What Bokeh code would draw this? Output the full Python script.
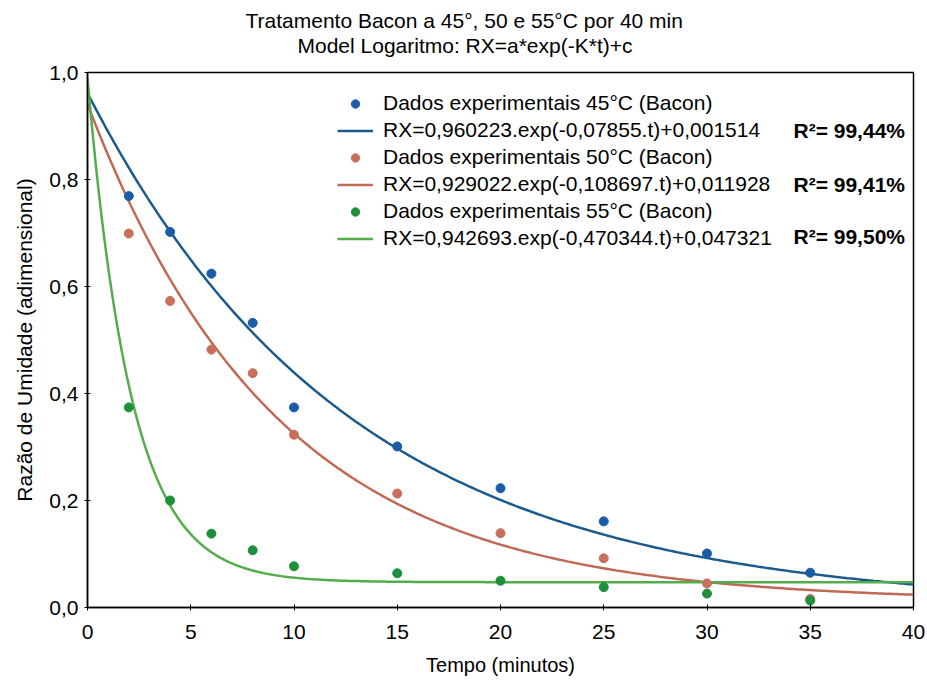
import numpy as np
from bokeh.plotting import figure
from bokeh.models import (Range1d, Legend, LegendItem, Label, CustomJSTickFormatter,
                          FixedTicker, Title)
from bokeh.embed import file_html
from bokeh.resources import INLINE

# ---- data ----
t_obs = [2, 4, 6, 8, 10, 15, 20, 25, 30, 35]
rx_45 = [0.769, 0.702, 0.624, 0.532, 0.374, 0.301, 0.223, 0.161, 0.101, 0.065]
rx_50 = [0.699, 0.573, 0.482, 0.438, 0.323, 0.213, 0.139, 0.092, 0.045, 0.016]
rx_55 = [0.374, 0.200, 0.138, 0.107, 0.077, 0.064, 0.050, 0.038, 0.026, 0.013]

# fitted model parameters (from the legend): RX = a*exp(-K*t)+c
fit_a = [0.960223, 0.929022, 0.942693]
fit_k = [0.07855, 0.108697, 0.470344]
fit_c = [0.001514, 0.011928, 0.047321]

data_labels = ["Dados experimentais 45°C (Bacon)",
               "Dados experimentais 50°C (Bacon)",
               "Dados experimentais 55°C (Bacon)"]
fit_labels = ["RX=0,960223.exp(-0,07855.t)+0,001514",
              "RX=0,929022.exp(-0,108697.t)+0,011928",
              "RX=0,942693.exp(-0,470344.t)+0,047321"]
r2_labels = ["R²= 99,44%", "R²= 99,41%", "R²= 99,50%"]

x_ticks = [0, 5, 10, 15, 20, 25, 30, 35, 40]
y_ticks = [0.0, 0.2, 0.4, 0.6, 0.8, 1.0]

title_line1 = "Tratamento Bacon a 45°, 50 e 55°C por 40 min"
title_line2 = "Model Logaritmo: RX=a*exp(-K*t)+c"
x_label = "Tempo (minutos)"
y_label = "Razão de Umidade (adimensional)"

dot_colors = ["#1b5ca8", "#c8705d", "#1f8f3c"]
line_colors = ["#1c5a8e", "#c06a55", "#52ad4a"]

FONT = "Liberation Sans"

p = figure(width=927, height=684, output_backend="svg", toolbar_location=None,
           title=None,
           x_range=Range1d(0, 40), y_range=Range1d(0, 1.0),
           min_border_left=87, min_border_right=14, min_border_top=72,
           min_border_bottom=77)

p.background_fill_color = "white"
p.border_fill_color = "white"
p.outline_line_color = "black"
p.outline_line_width = 1.5
p.xgrid.visible = False
p.ygrid.visible = False

# two-line title (spacer closest to the frame, then line 2, then line 1)
spacer = Title(text=" ", text_font=FONT, text_font_size="12px", standoff=0)
t2 = Title(text=title_line2, align="left", offset=210, text_font=FONT,
           text_font_size="21px", text_font_style="normal", text_color="black",
           standoff=0)
t1 = Title(text=title_line1, align="left", offset=158, text_font=FONT,
           text_font_size="21px", text_font_style="normal", text_color="black",
           standoff=0)
p.add_layout(spacer, "above")
p.add_layout(t2, "above")
p.add_layout(t1, "above")

for ax in (p.xaxis[0], p.yaxis[0]):
    ax.axis_line_color = "black"
    ax.axis_line_width = 1.5
    ax.major_tick_line_color = "black"
    ax.major_tick_in = 3
    ax.major_tick_out = 3
    ax.minor_tick_line_color = None
    ax.major_label_text_font = FONT
    ax.major_label_text_font_size = "21px"
    ax.major_label_text_color = "black"
    ax.axis_label_text_font = FONT
    ax.axis_label_text_font_size = "20px"
    ax.axis_label_text_font_style = "normal"
    ax.axis_label_text_color = "black"

p.xaxis.ticker = FixedTicker(ticks=x_ticks)
p.yaxis.ticker = FixedTicker(ticks=y_ticks)
p.yaxis.formatter = CustomJSTickFormatter(code="return tick.toFixed(1).replace('.', ',');")
p.xaxis.formatter = CustomJSTickFormatter(code="return tick.toFixed(0);")
p.xaxis.axis_label = x_label
p.yaxis.axis_label = y_label
p.xaxis.major_label_standoff = 14
p.xaxis.axis_label_standoff = 12
p.yaxis.major_label_standoff = 6
p.yaxis.axis_label_standoff = 10
p.yaxis.axis_label_text_font_size = "21px"

# fitted curves
t_fit = np.linspace(0, 40, 401)
series_obs = [rx_45, rx_50, rx_55]
scatter_r = []
line_r = []
for i in range(3):
    y_fit = fit_a[i] * np.exp(-fit_k[i] * t_fit) + fit_c[i]
    lr = p.line(t_fit, y_fit, line_color=line_colors[i], line_width=2.5)
    line_r.append(lr)
for i in range(3):
    sr = p.scatter(t_obs, series_obs[i], size=9, fill_color=dot_colors[i],
                   line_color=dot_colors[i], marker="circle")
    scatter_r.append(sr)

items = []
for i in range(3):
    items.append(LegendItem(label=data_labels[i], renderers=[scatter_r[i]]))
    items.append(LegendItem(label=fit_labels[i], renderers=[line_r[i]]))

legend = Legend(items=items, location=(250, 357), padding=0, margin=0,
                spacing=3, label_height=21, glyph_height=21, glyph_width=36,
                label_standoff=10, border_line_alpha=0, background_fill_alpha=0,
                label_text_font=FONT, label_text_font_size="21px",
                label_text_color="black")
p.add_layout(legend, "center")

r2_y = [477, 423, 371]
for i in range(3):
    p.add_layout(Label(x=706, y=r2_y[i], x_units="screen", y_units="screen",
                       text=r2_labels[i], text_font=FONT, text_font_size="21px",
                       text_font_style="bold", text_color="black",
                       text_baseline="middle", text_align="left"))

open("out.html", "w").write(file_html(p, INLINE))
